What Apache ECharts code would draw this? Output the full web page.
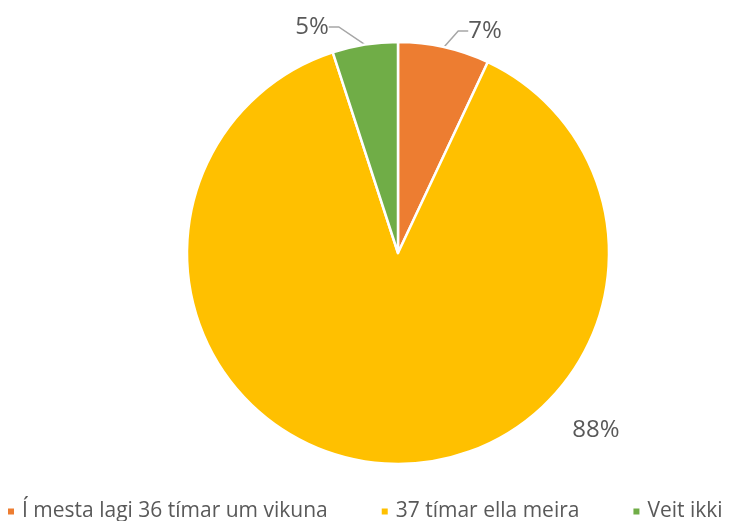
<!DOCTYPE html>
<html>
<head>
<meta charset="utf-8">
<script src="https://cdn.jsdelivr.net/npm/echarts@6/dist/echarts.min.js"></script>
<style>
html,body{margin:0;padding:0;background:#fff;}
#container{width:733px;height:521px;}
</style>
</head>
<body>
<div id="container"></div>
<script>
var categories = ['Í mesta lagi 36 tímar um vikuna', '37 tímar ella meira', 'Veit ikki'];
var values = [7, 88, 5];
var colors = ['#ED7D31', '#FFC000', '#70AD47'];

var myChart = echarts.init(document.getElementById('container'));
var pieData = [];
for(var i=0,k=categories.length;i<k;i++){
	pieData.push({name:categories[i], value:values[i], itemStyle:{color:colors[i]}});
}
// the big slice has its label set off to the lower right, no line
pieData[1].labelLine = {show:false};

// where Excel put the data labels
var labelSpots = [[485, 31], [596, 430], [312, 27]];

var option = {
	animation: false,
	legend: {
		top: 496,
		left: 1,
		itemWidth: 8,
		itemHeight: 8,
		itemGap: 52,
		icon: 'rect',
		textStyle: {fontFamily:'Open Sans', fontSize:21, color:'#595959', padding:[0,0,0,2]},
		data: categories
	},
	series: [{
		type: 'pie',
		center: [398, 253],
		radius: [0, 211],
		startAngle: 90,
		clockwise: true,
		itemStyle: {borderColor:'#fff', borderWidth:2.5},
		label: {
			show: true,
			position: 'outside',
			formatter: '{d}%',
			fontFamily: 'Open Sans',
			fontWeight: 'normal',
			fontSize: 24,
			color: '#595959'
		},
		labelLine: {
			show: true,
			length: 8,
			length2: 10,
			lineStyle: {color:'#A6A6A6', width:1.5}
		},
		labelLayout: function(params){
			var p = labelSpots[params.dataIndex];
			return {x: p[0], y: p[1], align: 'center', verticalAlign: 'middle'};
		},
		data: pieData
	}]
};
myChart.setOption(option);
</script>
</body>
</html>
